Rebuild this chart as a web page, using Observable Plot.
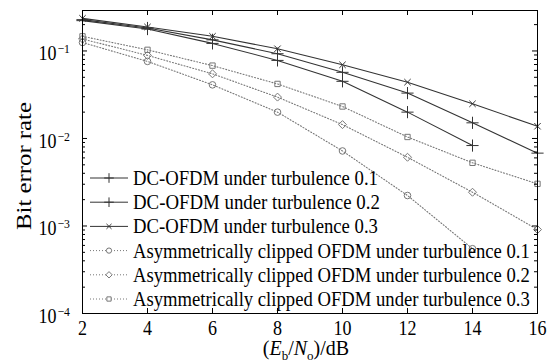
<!DOCTYPE html>
<html><head><meta charset="utf-8">
<script src="https://cdn.jsdelivr.net/npm/d3@7"></script>
<script src="https://cdn.jsdelivr.net/npm/@observablehq/plot@0.6"></script>
<style>body{margin:0;background:#fff} svg{font-family:"Liberation Serif",serif}</style>
</head><body><div id="chart"></div>
<script>
// ---- data ----
const snr = [2, 4, 6, 8, 10, 12, 14, 16];
const dc01 = [0.222, 0.178, 0.122, 0.078, 0.045, 0.020, 0.0083];
const dc02 = [0.228, 0.183, 0.134, 0.093, 0.057, 0.033, 0.0151, 0.0068];
const dc03 = [0.236, 0.188, 0.147, 0.106, 0.0695, 0.044, 0.0249, 0.0138];
const ac01 = [0.125, 0.076, 0.041, 0.020, 0.0072, 0.00223, 0.00055];
const ac02 = [0.137, 0.089, 0.0548, 0.0297, 0.0144, 0.0061, 0.00243, 0.00091];
const ac03 = [0.147, 0.103, 0.068, 0.042, 0.0232, 0.0104, 0.00527, 0.00303];
const seriesNames = [
  "DC-OFDM under turbulence 0.1",
  "DC-OFDM under turbulence 0.2",
  "DC-OFDM under turbulence 0.3",
  "Asymmetrically clipped OFDM under turbulence 0.1",
  "Asymmetrically clipped OFDM under turbulence 0.2",
  "Asymmetrically clipped OFDM under turbulence 0.3"
];
const xTicks = [2, 4, 6, 8, 10, 12, 14, 16];
const yMajor = [1e-4, 1e-3, 1e-2, 1e-1];
const yExp = ["\u22124", "\u22123", "\u22122", "\u22121"];
const yMinorMult = [2, 3, 4, 5, 6, 7, 8, 9];

// ---- styling ----
const W = 555, H = 362, ml = 82, mr = 18, mt = 10, mb = 49;
const pw = W - ml - mr, ph = H - mt - mb;
const yTop = 0.29;
const solid = "#333", dotted = "#777";
const styles = [
  {stroke: solid, dash: null, symbol: "plus", r: 4},
  {stroke: solid, dash: null, symbol: "plus", r: 4},
  {stroke: solid, dash: null, symbol: "times", r: 3},
  {stroke: dotted, dash: "1,2", symbol: "circle", r: 3.3},
  {stroke: dotted, dash: "1,2", symbol: "diamond2", r: 3.6},
  {stroke: dotted, dash: "1,2", symbol: "square2", r: 3.4}
];
const allSeries = [dc01, dc02, dc03, ac01, ac02, ac03];
const tables = allSeries.map(vals => vals.map((v, i) => ({x: snr[i], y: v})));

const yMinor = [];
yMajor.forEach(b => yMinorMult.forEach(m => { const v = b * m; if (v < yTop) yMinor.push(v); }));

const marks = [];
tables.forEach((t, k) => {
  const s = styles[k];
  marks.push(Plot.line(t, {x: "x", y: "y", stroke: s.stroke, strokeWidth: 1.1, strokeDasharray: s.dash}));
  marks.push(Plot.dot(t, {x: "x", y: "y", symbol: () => s.symbol, r: s.r, stroke: s.stroke, strokeWidth: 1, fill: "none"}));
});
// inward ticks (MATLAB box style)
marks.push(Plot.tickX(xTicks, {x: d => d, insetTop: ph - 5, stroke: "#000"}));
marks.push(Plot.tickX(xTicks, {x: d => d, insetBottom: ph - 5, stroke: "#000"}));
marks.push(Plot.tickY(yMajor, {y: d => d, insetRight: pw - 5, stroke: "#000"}));
marks.push(Plot.tickY(yMajor, {y: d => d, insetLeft: pw - 5, stroke: "#000"}));
marks.push(Plot.tickY(yMinor, {y: d => d, insetRight: pw - 3, stroke: "#000"}));
marks.push(Plot.tickY(yMinor, {y: d => d, insetLeft: pw - 3, stroke: "#000"}));
marks.push(Plot.frame({stroke: "#000", strokeWidth: 1}));
// tick labels
marks.push(Plot.axisX(xTicks, {tickSize: 0, tickPadding: 7, label: null, fontSize: 20, tickFormat: d => String(d)}));
marks.push(Plot.text(yMajor, {y: d => d, text: () => "10", frameAnchor: "left", textAnchor: "end", dx: -26, dy: 3, fontSize: 20, fill: "#000"}));
marks.push(Plot.text(yMajor, {y: d => d, text: (d, i) => yExp[i], frameAnchor: "left", textAnchor: "start", dx: -25, dy: -2, fontSize: 13, fill: "#000"}));

const plot = Plot.plot({
  width: W, height: H, marginLeft: ml, marginRight: mr, marginTop: mt, marginBottom: mb,
  x: {domain: [2, 16], axis: null},
  y: {type: "log", domain: [1e-4, yTop], axis: null},
  style: {fontFamily: "Liberation Serif", fontSize: "20px", color: "#000", background: "#fff"},
  marks
});
document.getElementById("chart").appendChild(plot);

const svg = d3.select(plot);
// compress texts horizontally a little (reference font is condensed)
svg.selectAll("text").each(function() {
  const len = this.getComputedTextLength();
  if (len > 0) { this.setAttribute("textLength", len * 0.9); this.setAttribute("lengthAdjust", "spacingAndGlyphs"); }
});

// y-axis title
svg.append("text").attr("transform", "translate(31,166) rotate(-90)").attr("text-anchor", "middle")
  .attr("font-size", 22).attr("fill", "#000").style("font-family", "Liberation Serif")
  .attr("textLength", 128).attr("lengthAdjust", "spacingAndGlyphs").text("Bit error rate");

// x-axis title with italics and subscripts
const xt = svg.append("text").attr("x", 306).attr("y", 355).attr("text-anchor", "middle")
  .attr("font-size", 20).attr("fill", "#000").style("font-family", "Liberation Serif");
xt.append("tspan").text("(");
xt.append("tspan").attr("font-style", "italic").text("E");
xt.append("tspan").attr("font-size", 13).attr("dy", 5).text("b");
xt.append("tspan").attr("dy", -5).text("/");
xt.append("tspan").attr("font-style", "italic").text("N");
xt.append("tspan").attr("font-size", 13).attr("dy", 5).text("o");
xt.append("tspan").attr("dy", -5).text(")/dB");

// legend
const legY0 = 178, legDy = 24.2, lx0 = 90, lx1 = 128, tx = 133;
const legWidths = [245, 247, 245, 397, 397, 397];
const symMap = {plus: d3.symbolPlus, times: d3.symbolTimes, circle: d3.symbolCircle, diamond2: d3.symbolDiamond2, square2: d3.symbolSquare2};
const lg = svg.append("g");
seriesNames.forEach((name, k) => {
  const s = styles[k];
  const y = legY0 + k * legDy;
  lg.append("line").attr("x1", lx0).attr("x2", lx1).attr("y1", y).attr("y2", y)
    .attr("stroke", s.stroke).attr("stroke-width", 1).attr("stroke-dasharray", s.dash);
  lg.append("path").attr("transform", `translate(${(lx0 + lx1) / 2},${y})`)
    .attr("d", d3.symbol(symMap[s.symbol], Math.PI * (s.r * 0.8) ** 2)())
    .attr("fill", "#fff").attr("stroke", s.stroke);
  const g = lg.append("g");
  const t = g.append("text").attr("x", 0).attr("y", 0).attr("font-size", 20.5).attr("fill", "#000")
    .attr("text-anchor", "start").style("font-family", "Liberation Serif").text(name);
  const sx = legWidths[k] / t.node().getComputedTextLength();
  g.attr("transform", `translate(${tx},${y + 7}) scale(${sx},1)`);
});
</script></body></html>
